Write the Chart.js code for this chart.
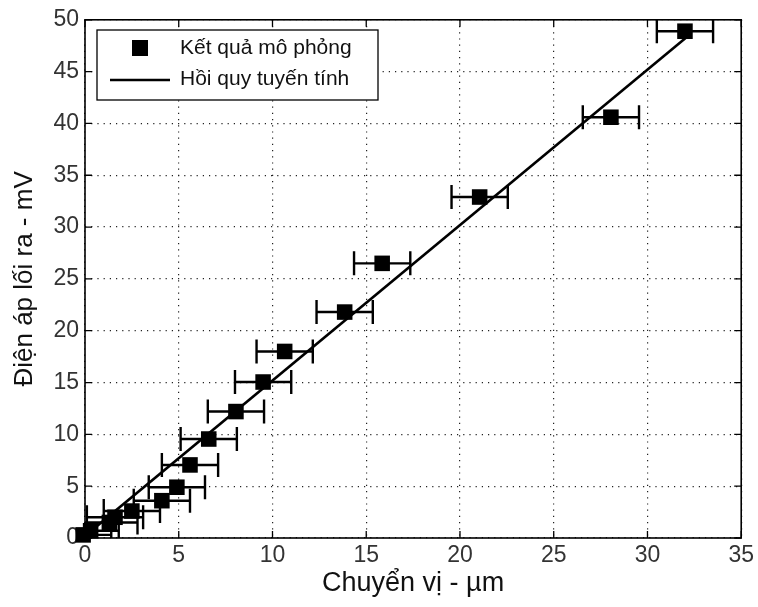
<!DOCTYPE html>
<html>
<head>
<meta charset="utf-8">
<title>Điện áp lối ra theo chuyển vị</title>
<script src="https://cdn.jsdelivr.net/npm/chart.js@4.4.1/dist/chart.umd.min.js"></script>
<style>
    html, body { margin: 0; padding: 0; background: #fff; }
    #wrap { width: 758px; height: 607px; }
</style>
</head>
<body>
<div id="wrap"><canvas id="chart" width="758" height="607"></canvas></div>
<script>
// Data dari gambar (chuyển vị - µm, điện áp - mV)
const chuyenVi = [-0.1, 0.3, 1.3, 1.6, 2.5, 4.1, 4.9, 5.6, 6.6, 8.05, 9.5, 10.65, 13.85, 15.85, 21.05, 28.05, 32.0];
const dienAp   = [0.3, 0.7, 1.5, 2.0, 2.6, 3.6, 4.9, 7.05, 9.55, 12.2, 15.05, 18.0, 21.8, 26.5, 32.9, 40.6, 48.9];
const saiSoX   = [1.5, 1.5, 1.5, 1.5, 1.5, 1.5, 1.5, 1.5, 1.5, 1.5, 1.5, 1.5, 1.5, 1.5, 1.5, 1.5, 1.5];

// Garis regresi (dua ujung)
const hoiQuyX = [0, 32.1];
const hoiQuyY = [0.2, 48.35];

// Label sumbu
const xTicks = [0, 5, 10, 15, 20, 25, 30, 35];
const yTicks = [0, 5, 10, 15, 20, 25, 30, 35, 40, 45, 50];
const legendLabels = ['Kết quả mô phỏng', 'Hồi quy tuyến tính'];

const FONT = '"Liberation Sans", Arial, sans-serif';

// Plugin error bar horizontal
const errorBarPlugin = {
    id: 'errorBars',
    beforeDatasetsDraw(chart) {
        const ctx = chart.ctx;
        const xs = chart.scales.x;
        const ys = chart.scales.y;
        const area = chart.chartArea;
        ctx.save();
        ctx.beginPath();
        ctx.rect(area.left, area.top, area.right - area.left, area.bottom - area.top);
        ctx.clip();
        ctx.strokeStyle = '#000';
        ctx.lineWidth = 2.4;
        chuyenVi.forEach((x, i) => {
            const x1 = xs.getPixelForValue(x - saiSoX[i]);
            const x2 = xs.getPixelForValue(x + saiSoX[i]);
            const y = ys.getPixelForValue(dienAp[i]);
            ctx.beginPath();
            ctx.moveTo(x1, y); ctx.lineTo(x2, y);
            ctx.moveTo(x1, y - 12); ctx.lineTo(x1, y + 12);
            ctx.moveTo(x2, y - 12); ctx.lineTo(x2, y + 12);
            ctx.stroke();
        });
        ctx.restore();
    }
};

// Plugin bingkai, tick ke dalam, dan legenda
const framePlugin = {
    id: 'frame',
    afterDraw(chart) {
        const ctx = chart.ctx;
        const xs = chart.scales.x;
        const ys = chart.scales.y;
        const a = chart.chartArea;
        ctx.save();
        ctx.strokeStyle = '#000';
        ctx.lineWidth = 1.6;
        ctx.strokeRect(a.left, a.top, a.right - a.left, a.bottom - a.top);

        // tick ke dalam di keempat sisi
        ctx.lineWidth = 1.3;
        ctx.beginPath();
        xTicks.forEach(v => {
            const px = xs.getPixelForValue(v);
            ctx.moveTo(px, a.bottom); ctx.lineTo(px, a.bottom - 7);
            ctx.moveTo(px, a.top); ctx.lineTo(px, a.top + 7);
        });
        yTicks.forEach(v => {
            const py = ys.getPixelForValue(v);
            ctx.moveTo(a.left, py); ctx.lineTo(a.left + 7, py);
            ctx.moveTo(a.right, py); ctx.lineTo(a.right - 7, py);
        });
        ctx.stroke();

        // legenda
        const lx = 97, ly = 30, lw = 281, lh = 70;
        ctx.fillStyle = '#fff';
        ctx.fillRect(lx, ly, lw, lh);
        ctx.lineWidth = 1.3;
        ctx.strokeRect(lx, ly, lw, lh);
        ctx.fillStyle = '#000';
        ctx.fillRect(132, 40, 16, 16);
        ctx.lineWidth = 2.5;
        ctx.beginPath();
        ctx.moveTo(110, 80); ctx.lineTo(170, 80);
        ctx.stroke();
        ctx.fillStyle = '#111';
        ctx.font = '21px ' + FONT;
        ctx.textBaseline = 'middle';
        ctx.textAlign = 'left';
        ctx.fillText(legendLabels[0], 180, 48);
        ctx.fillText(legendLabels[1], 180, 79);
        ctx.restore();
    }
};

function buatChart() {
    const ctx = document.getElementById('chart').getContext('2d');
    const titik = chuyenVi.map((x, i) => ({ x: x, y: dienAp[i] }));
    const garis = hoiQuyX.map((x, i) => ({ x: x, y: hoiQuyY[i] }));

    new Chart(ctx, {
        type: 'scatter',
        data: {
            datasets: [{
                label: legendLabels[0],
                data: titik,
                pointStyle: 'rect',
                pointRadius: 11,
                backgroundColor: '#000',
                borderColor: '#000',
                borderWidth: 0,
                clip: false,
                order: 1
            }, {
                label: legendLabels[1],
                type: 'line',
                data: garis,
                showLine: true,
                borderColor: '#000',
                borderWidth: 2.6,
                pointRadius: 0,
                order: 2
            }]
        },
        options: {
            responsive: false,
            animation: false,
            layout: { padding: { left: 0, top: 19, right: 13, bottom: 0 } },
            plugins: {
                legend: { display: false },
                tooltip: { enabled: false }
            },
            scales: {
                x: {
                    type: 'linear',
                    min: 0,
                    max: 35,
                    afterFit: s => { s.height = 69; },
                    afterBuildTicks: s => { s.ticks = xTicks.map(v => ({ value: v })); },
                    grid: { color: '#222', lineWidth: 1.2, drawTicks: false },
                    border: { display: false, dash: [1.2, 5] },
                    ticks: { color: '#333', padding: 4, font: { family: FONT, size: 23 } },
                    title: {
                        display: true,
                        text: 'Chuyển vị - µm',
                        color: '#111',
                        padding: { top: 0, bottom: 7 },
                        font: { family: FONT, size: 27 }
                    }
                },
                y: {
                    type: 'linear',
                    min: 0,
                    max: 50,
                    afterFit: s => { s.width = 85; },
                    afterBuildTicks: s => { s.ticks = yTicks.map(v => ({ value: v })); },
                    grid: { color: '#222', lineWidth: 1.2, drawTicks: false },
                    border: { display: false, dash: [1.2, 5] },
                    ticks: { color: '#333', padding: 6, font: { family: FONT, size: 23 } },
                    title: {
                        display: true,
                        text: 'Điện áp lối ra - mV',
                        color: '#111',
                        padding: { top: 9, bottom: 0 },
                        font: { family: FONT, size: 26 }
                    }
                }
            }
        },
        plugins: [errorBarPlugin, framePlugin]
    });
}

buatChart();
</script>
</body>
</html>
